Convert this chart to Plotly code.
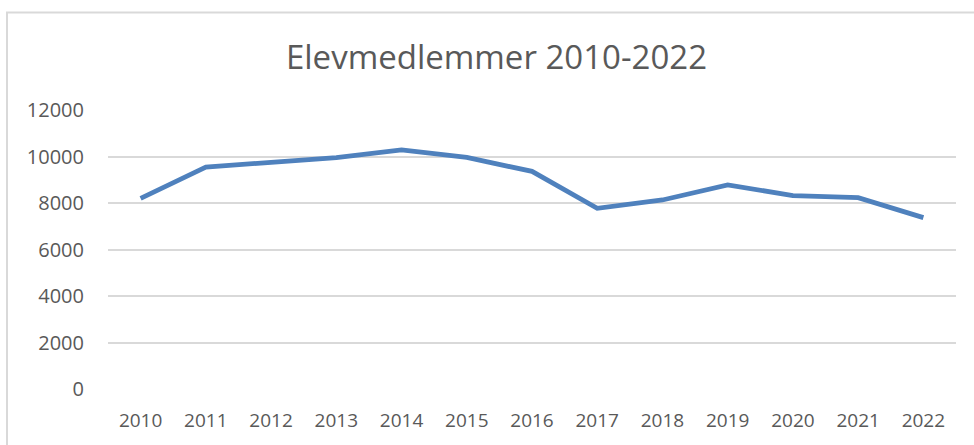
import plotly.graph_objects as go

years = ["2010", "2011", "2012", "2013", "2014", "2015", "2016",
         "2017", "2018", "2019", "2020", "2021", "2022"]
members = [8200, 9540, 9750, 9950, 10280, 9960, 9360,
           7770, 8130, 8780, 8320, 8230, 7370]
y_ticks = [0, 2000, 4000, 6000, 8000, 10000, 12000]
y_labels = [str(v) for v in y_ticks]

W, H = 974, 445
L, R, T, B = 108, 18, 110, 56
pw = W - L - R
ph = H - T - B

fig = go.Figure()
fig.add_trace(go.Scatter(
    x=list(range(len(years))), y=members, mode="lines",
    line=dict(color="#4F81BD", width=4.8),
    hoverinfo="x+y", showlegend=False,
))

grey = "#595959"
fig.update_layout(
    width=W, height=H,
    margin=dict(l=L, r=R, t=T, b=B, autoexpand=False),
    paper_bgcolor="white", plot_bgcolor="white",
    font=dict(family="Open Sans", size=18, color=grey),
    title=dict(text="Elevmedlemmer 2010-2022", font=dict(size=33, color=grey),
               xref="paper", x=(496.5 - L) / pw, xanchor="center",
               yref="container", y=1 - 57 / H, yanchor="middle"),
    xaxis=dict(range=[-0.5, 12.5], tickmode="array",
               tickvals=list(range(len(years))), ticktext=years,
               showgrid=False, zeroline=False, showline=False,
               ticks="outside", ticklen=14, tickcolor="rgba(0,0,0,0)",
               tickfont=dict(size=19, color=grey), fixedrange=True),
    yaxis=dict(range=[0, 12000], tickmode="array", tickvals=y_ticks,
               ticktext=y_labels,
               showgrid=True, gridcolor="#D9D9D9", gridwidth=1.5,
               zeroline=False, showline=False,
               ticks="outside", ticklen=19, tickcolor="rgba(0,0,0,0)",
               tickfont=dict(size=20, color=grey), fixedrange=True),
    shapes=[dict(type="rect", xref="paper", yref="paper",
                 x0=(7 - L) / pw, x1=1.2, y0=-0.5, y1=1 + (T - 12.5) / ph,
                 line=dict(color="#D9D9D9", width=2), fillcolor="rgba(0,0,0,0)",
                 layer="below")],
)

fig.write_html("out.html", config={"displayModeBar": False},
               post_script="document.body.style.margin='0px';document.body.style.overflow='hidden';")
